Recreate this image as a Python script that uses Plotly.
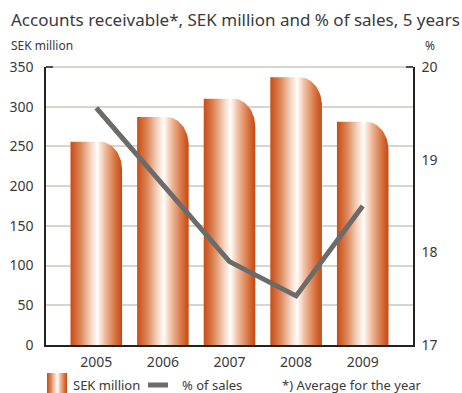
import base64
import numpy as np
import plotly.graph_objects as go

# ---- data ----
years = ["2005", "2006", "2007", "2008", "2009"]
receivables_sek_m = [256, 287, 310, 337, 281]       # SEK million, yearly average
pct_of_sales = [19.56, 18.73, 17.90, 17.53, 18.50]  # % of sales

left_ticks = [0, 50, 100, 150, 200, 250, 300, 350]
right_ticks = [17, 18, 19, 20]

# ---- geometry / style ----
W, H = 462, 393
ML, MR, MT, MB = 46, 49, 67, 48
plot_w = W - ML - MR
plot_h = H - MT - MB
x_range = [-0.755, 4.755]
y_range = [0, 350]
y2_range = [17, 20]

bar_half = 0.387
px_per_x = plot_w / (x_range[1] - x_range[0])
px_per_y = plot_h / (y_range[1] - y_range[0])
corner_rx = 22 / px_per_x   # rounded top-right corner, in data units
corner_ry = 28 / px_per_y

copper = [
    [0.0, "#c84c15"],
    [0.18, "#db8152"],
    [0.40, "#f5d6c4"],
    [0.52, "#fffdfb"],
    [0.66, "#f0c0a4"],
    [0.85, "#d97948"],
    [1.0, "#c54810"],
]
ink = "#3a3a3a"
grid = "#d6d6ce"
axis_col = "#222222"
line_col = "#6b6b69"
font_family = "Noto Sans, Open Sans, sans-serif"


def bar_outline(cx, v):
    """Bar polygon with a rounded top-right corner."""
    left, right = cx - bar_half, cx + bar_half
    t = np.linspace(np.pi / 2, 0, 24)
    arc_x = right - corner_rx + corner_rx * np.cos(t)
    arc_y = v - corner_ry + corner_ry * np.sin(t)
    xs = [left, left] + list(arc_x) + [right, left]
    ys = [0, v] + list(arc_y) + [0, 0]
    return xs, ys


fig = go.Figure()

for i, v in enumerate(receivables_sek_m):
    xs, ys = bar_outline(i, v)
    fig.add_trace(go.Scatter(
        x=xs, y=ys, mode="lines", fill="toself",
        line=dict(width=0, color="rgba(0,0,0,0)"),
        fillgradient=dict(type="horizontal", colorscale=copper),
        hoverinfo="skip", showlegend=False,
    ))

fig.add_trace(go.Scatter(
    x=list(range(len(years))), y=pct_of_sales, yaxis="y2",
    mode="lines", line=dict(color=line_col, width=5),
    showlegend=False,
))

fig.update_layout(
    width=W, height=H,
    margin=dict(l=ML, r=MR, t=MT, b=MB, autoexpand=False),
    paper_bgcolor="white", plot_bgcolor="white",
    font=dict(family=font_family, color=ink, size=13),
    showlegend=False,
    xaxis=dict(
        range=x_range, tickmode="array",
        tickvals=list(range(len(years))), ticktext=years,
        showgrid=False, zeroline=False, automargin=False,
        showline=True, linecolor=axis_col, linewidth=1.5,
        ticks="", ticklabelstandoff=3,
        tickfont=dict(size=14, color=ink),
    ),
    yaxis=dict(
        range=y_range, tickmode="array", tickvals=left_ticks,
        showgrid=True, gridcolor=grid, gridwidth=2,
        zeroline=False, automargin=False,
        showline=True, linecolor=axis_col, linewidth=1.5,
        ticks="", ticklabelstandoff=8,
        tickfont=dict(size=14, color=ink),
    ),
    yaxis2=dict(
        range=y2_range, overlaying="y", side="right",
        tickmode="array", tickvals=right_ticks,
        showgrid=False, zeroline=False, automargin=False,
        showline=True, linecolor=axis_col, linewidth=1.5,
        ticks="", ticklabelstandoff=4,
        tickfont=dict(size=14, color=ink),
    ),
)

# top grid line along the upper edge of the frame
fig.add_shape(type="line", xref="paper", yref="paper",
              x0=0, x1=1, y0=1, y1=1, layer="below",
              line=dict(color=grid, width=2))
# short dark ticks at the top corners of the frame
fig.add_shape(type="line", xref="paper", yref="paper",
              x0=0, x1=7 / plot_w, y0=1, y1=1,
              line=dict(color=axis_col, width=1.5))
fig.add_shape(type="line", xref="paper", yref="paper",
              x0=1 - 7 / plot_w, x1=1, y0=1, y1=1,
              line=dict(color=axis_col, width=1.5))


def px_x(p):
    return (p - ML) / plot_w


def px_y(p):
    return (H - MB - p) / plot_h


def label(text, x, y, size, anchor="left"):
    fig.add_annotation(text=text, xref="paper", yref="paper",
                       x=px_x(x), y=px_y(y), xanchor=anchor, yanchor="middle",
                       showarrow=False, font=dict(size=size, color=ink))


label("Accounts receivable*, SEK million and % of sales, 5 years", 9, 20, 17)
label("SEK million", 9, 45, 12)
label("%", 423, 45, 12)

# legend row
swatch_svg = (
    "<svg xmlns='http://www.w3.org/2000/svg' width='20' height='22'>"
    "<defs><linearGradient id='g' x1='0' x2='1' y1='0' y2='0'>"
    + "".join(f"<stop offset='{o}' stop-color='{c}'/>" for o, c in copper)
    + "</linearGradient></defs>"
    "<rect width='20' height='22' fill='url(#g)'/></svg>"
)
fig.add_layout_image(
    source="data:image/svg+xml;base64," + base64.b64encode(swatch_svg.encode()).decode(),
    xref="paper", yref="paper", x=px_x(47), y=px_y(373),
    sizex=20 / plot_w, sizey=22 / plot_h,
    xanchor="left", yanchor="top", sizing="stretch", layer="above",
)
label("SEK million", 71, 385, 13)
fig.add_shape(type="line", xref="paper", yref="paper",
              x0=px_x(148), x1=px_x(168), y0=px_y(385), y1=px_y(385),
              line=dict(color=line_col, width=5))
label("% of sales", 180, 385, 13)
label("*) Average for the year", 280, 385, 13)

fig.write_html("out.html")
